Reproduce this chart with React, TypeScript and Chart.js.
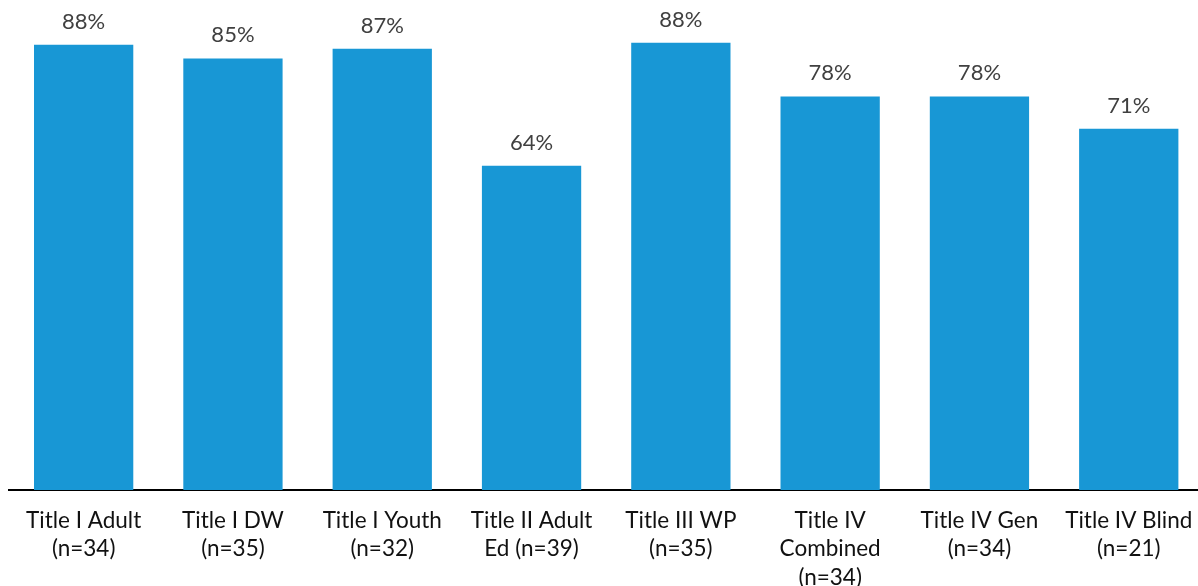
import React, { useEffect, useRef } from "react";
import { Chart, registerables } from "chart.js";

Chart.register(...registerables);

const categories: string[][] = [
  ["Title I Adult", "(n=34)"],
  ["Title I DW", "(n=35)"],
  ["Title I Youth", "(n=32)"],
  ["Title II Adult", "Ed (n=39)"],
  ["Title III WP", "(n=35)"],
  ["Title IV", "Combined", "(n=34)"],
  ["Title IV Gen", "(n=34)"],
  ["Title IV Blind", "(n=21)"],
];

const values: number[] = [87.9, 85.2, 87.1, 64.0, 88.3, 77.7, 77.7, 71.3];

const BAR_COLOR = "#1897d5";

const valueLabels = {
  id: "valueLabels",
  afterDatasetsDraw(chart: any) {
    const ctx = chart.ctx;
    const meta = chart.getDatasetMeta(0);
    ctx.save();
    ctx.font = "22px Lato";
    ctx.fillStyle = "#404040";
    ctx.textAlign = "center";
    ctx.textBaseline = "alphabetic";
    meta.data.forEach((bar: any, i: number) => {
      ctx.fillText(Math.round(values[i]) + "%", bar.x, bar.y - 16);
    });
    ctx.restore();
  },
};

export default function App() {
  const ref = useRef<HTMLCanvasElement | null>(null);

  useEffect(() => {
    if (!ref.current) return;
    const chart = new Chart(ref.current, {
      type: "bar",
      data: {
        labels: categories,
        datasets: [
          {
            data: values,
            backgroundColor: BAR_COLOR,
            barPercentage: 0.665,
            categoryPercentage: 1,
          },
        ],
      },
      options: {
        responsive: false,
        animation: false,
        layout: { padding: { left: 9, right: 0.6, top: 8.8, bottom: 0 } },
        plugins: {
          legend: { display: false },
          tooltip: { enabled: false },
        },
        scales: {
          x: {
            grid: { display: false },
            border: { display: true, color: "#000000", width: 2 },
            ticks: {
              color: "#111111",
              font: { family: "Lato", size: 22.5, lineHeight: 1.25 },
              padding: 9,
              maxRotation: 0,
              minRotation: 0,
              autoSkip: false,
            },
            afterFit: (scale: any) => {
              scale.height = 96;
            },
          },
          y: {
            display: false,
            min: 0,
            max: 95,
          },
        },
      },
      plugins: [valueLabels],
    });
    return () => chart.destroy();
  }, []);

  return (
    <div
      style={{
        position: "fixed",
        left: 0,
        top: 0,
        width: 1198,
        height: 586,
        overflow: "hidden",
        background: "#ffffff",
      }}
    >
      <canvas ref={ref} width={1204} height={586} />
    </div>
  );
}
